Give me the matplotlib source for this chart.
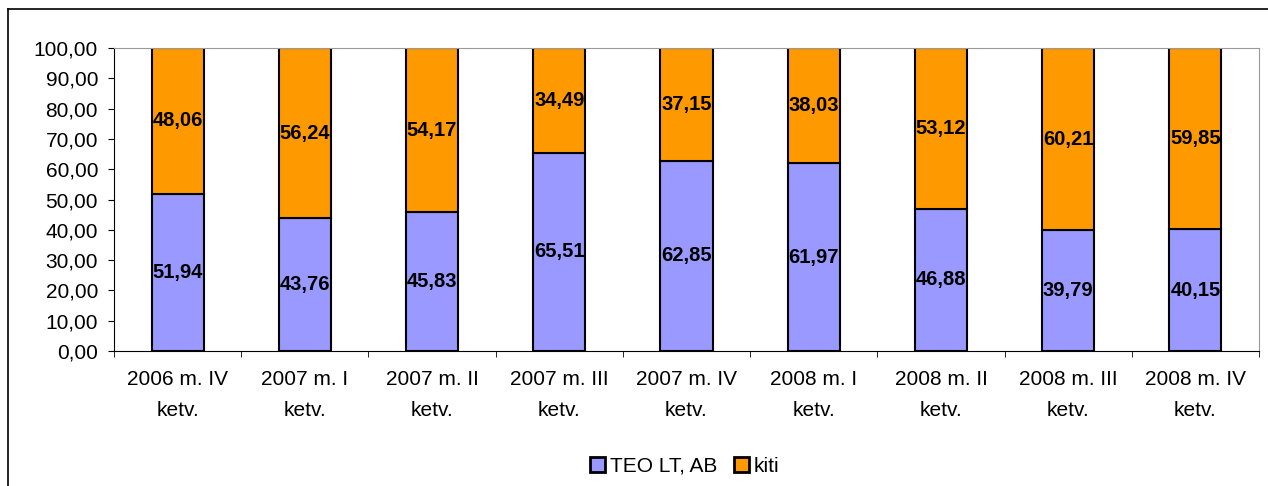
import matplotlib.pyplot as plt
import matplotlib.lines as mlines
import numpy as np

categories = ['2006 m. IV\nketv.', '2007 m. I\nketv.', '2007 m. II\nketv.',
              '2007 m. III\nketv.', '2007 m. IV\nketv.', '2008 m. I\nketv.',
              '2008 m. II\nketv.', '2008 m. III\nketv.', '2008 m. IV\nketv.']
teo = [51.94, 43.76, 45.83, 65.51, 62.85, 61.97, 46.88, 39.79, 40.15]
kiti = [48.06, 56.24, 54.17, 34.49, 37.15, 38.03, 53.12, 60.21, 59.85]
series_names = ['TEO LT, AB', 'kiti']
colors = ['#9999FF', '#FF9900']

plt.rcParams['font.family'] = ['Liberation Sans', 'DejaVu Sans']

fig = plt.figure(figsize=(12.68, 4.86), dpi=100)
ax = fig.add_axes([0.0899, 0.2778, 0.9030, 0.6234])

# outer chart frame (only top and left edges are inside the image)
fig.lines.append(mlines.Line2D([8 / 1268, 1.0], [1 - 9 / 486, 1 - 9 / 486], transform=fig.transFigure,
                               color='black', linewidth=1.2))
fig.lines.append(mlines.Line2D([8 / 1268, 8 / 1268], [0, 1 - 9 / 486], transform=fig.transFigure,
                               color='black', linewidth=1.2))

x = np.arange(len(categories))
w = 0.41
b1 = ax.bar(x, teo, w, color=colors[0], edgecolor='black', linewidth=1.5, label=series_names[0])
b2 = ax.bar(x, kiti, w, bottom=teo, color=colors[1], edgecolor='black', linewidth=1.5, label=series_names[1])

fmt = lambda v: f'{v:.2f}'.replace('.', ',')
for i in range(len(x)):
    ax.text(x[i], teo[i] / 2, fmt(teo[i]), ha='center', va='center', fontsize=14.5, fontweight='bold')
    ax.text(x[i], teo[i] + kiti[i] / 2, fmt(kiti[i]), ha='center', va='center', fontsize=14.5, fontweight='bold')

ax.set_xlim(-0.5, len(x) - 0.5)
ax.set_ylim(0, 100)
ax.set_yticks(np.arange(0, 101, 10))
ax.set_yticklabels([fmt(v) for v in np.arange(0, 101, 10)], fontsize=15)
ax.set_xticks(x)
ax.set_xticklabels(categories, fontsize=15, linespacing=1.75)
ax.set_xticks(np.arange(-0.5, len(x)), minor=True)
ax.tick_params(axis='x', which='major', length=0, pad=14)
ax.tick_params(axis='x', which='minor', length=4.5, direction='out')
ax.tick_params(axis='y', length=4.5, direction='out', pad=7)

for s in ['top', 'right']:
    ax.spines[s].set_color('#999999')
for s in ['left', 'bottom']:
    ax.spines[s].set_color('black')

leg = fig.legend(handles=[b1, b2], labels=series_names, loc='center', bbox_to_anchor=(0.54, 0.041),
                 ncol=2, frameon=False, fontsize=15, handlelength=0.7, handleheight=0.7,
                 handletextpad=0.25, columnspacing=0.8)
for h in leg.legend_handles:
    h.set_linewidth(2)

fig.savefig('out.png', dpi=100)
